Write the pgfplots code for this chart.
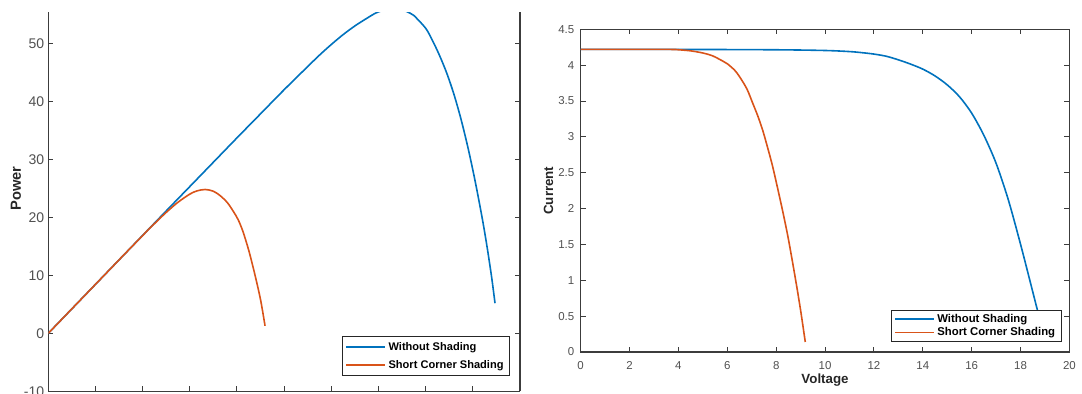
\documentclass[border=0pt]{standalone}
\usepackage{pgfplots}
\pgfplotsset{compat=1.18}
\usepackage{fontspec}
\setmainfont{Liberation Sans}
\definecolor{mblue}{rgb}{0,0.447,0.741}
\definecolor{morange}{rgb}{0.85,0.325,0.098}
\definecolor{axcol}{HTML}{3C3C3C}
\definecolor{tickcol}{HTML}{505050}
\definecolor{labcol}{HTML}{262626}

\pgfplotsset{
  mystyle/.style={
    scale only axis,
    tick align=inside,
    major tick length=3.75pt,
    every tick/.style={axcol, line width=0.8pt},
    /pgf/number format/assume math mode=true,
    ticklabel style={text=tickcol},
    legend cell align=left,
    legend image code/.code={\draw[##1, line width=1.2pt] (0pt,0pt) -- (29pt,0pt);},
    clip=true,
  }
}

\begin{document}
\begin{tikzpicture}
% ---------------- left: P-V ----------------
\begin{axis}[mystyle,
  at={(36.2pt,-293.5pt)}, anchor=south west,
  width=353.8pt, height=284.5pt,
  xmin=0, xmax=20, ymin=-10, ymax=55.4,
  axis x line*=bottom, axis y line*=box,
  axis line style={-, axcol, line width=0.9pt},
  x axis line style={-}, y axis line style={-},
  xtick={0,2,...,20}, xticklabels={},
  ytick={-10,0,10,20,30,40,50},
  yticklabel style={font=\fontsize{10.5}{12}\selectfont, xshift=0.5pt},
  ylabel={Power},
  every axis y label/.style={at={(axis description cs:-0.0684,0.535)}, rotate=90, anchor=center,
     font=\fontsize{11}{13}\selectfont\bfseries, text=labcol},
  legend style={at={(0.979,0.0403)}, anchor=south east, draw=black!85, line width=0.8pt,
     font=\fontsize{8.3}{10}\selectfont\bfseries, fill=white, inner xsep=2.5pt, inner ysep=2pt,
     row sep=2pt},
]
\addplot[mblue, line width=1.2pt, smooth] coordinates {
(0,0) (1,4.22) (2,8.44) (3,12.66) (4,16.88) (5,21.1) (6,25.3) (7,29.5) (8,33.7)
(9,37.85) (10,42.0) (11,46.0) (11.5,47.97) (12,49.8) (12.5,51.5) (13,53.0)
(13.5,54.3) (13.9,55.25) (14.3,55.8) (14.7,56.0) (15.0,55.8) (15.34,55.2)
(15.5,54.8) (16.0,52.6) (16.3,50.4) (16.6,47.8) (16.9,44.8) (17.2,41.2)
(17.5,36.9) (17.8,31.9) (18.1,26.2) (18.4,19.8) (18.6,15.0) (18.8,9.6) (18.94,5.2)
};
\addlegendentry{Without Shading}
\addplot[morange, line width=1.2pt, smooth] coordinates {
(0,0) (1,4.22) (2,8.44) (3,12.66) (4,16.86) (4.5,18.9) (5,20.85) (5.5,22.6)
(6,24.0) (6.3,24.55) (6.65,24.8) (7.0,24.5) (7.3,23.7) (7.6,22.5) (7.85,21.0)
(8.05,19.6) (8.25,17.6) (8.5,14.3) (8.75,10.3) (9.0,5.8) (9.19,1.3)
};
\addlegendentry{Short Corner Shading}
\end{axis}

% ---------------- right: I-V ----------------
\begin{axis}[mystyle,
  at={(435.5pt,-264pt)}, anchor=south west,
  width=366.6pt, height=242pt,
  xmin=0, xmax=20, ymin=0, ymax=4.5,
  axis line style={axcol, line width=0.9pt},
  xtick={0,2,...,20},
  ytick={0,0.5,1,1.5,2,2.5,3,3.5,4,4.5},
  ticklabel style={font=\fontsize{8.6}{10}\selectfont},
  xticklabel style={yshift=-3.5pt},
  yticklabel style={xshift=-1.3pt},
  xlabel={Voltage}, ylabel={Current},
  every axis x label/.style={at={(axis description cs:0.5,-0.088)}, anchor=center,
     font=\fontsize{10}{12}\selectfont\bfseries, text=labcol},
  every axis y label/.style={at={(axis description cs:-0.0659,0.5)}, rotate=90, anchor=center,
     font=\fontsize{10}{12}\selectfont\bfseries, text=labcol},
  legend style={at={(0.984,0.030)}, anchor=south east, draw=black!85, line width=0.8pt,
     font=\fontsize{8.5}{9}\selectfont\bfseries, fill=white, inner xsep=2.5pt, inner ysep=1pt,
     row sep=-1.5pt},
]
\addplot[mblue, line width=1.2pt, smooth] coordinates {
(0,4.22) (4,4.22) (8,4.215) (10,4.205) (11,4.19) (11.5,4.175) (12,4.155)
(12.5,4.125) (13,4.075) (13.5,4.015) (14,3.945) (14.5,3.85) (15,3.725)
(15.5,3.56) (16,3.33) (16.5,3.02) (17,2.63) (17.5,2.12) (18,1.5) (18.4,0.97)
(18.7,0.57) (18.94,0.27)
};
\addlegendentry{Without Shading}
\addplot[morange, line width=1.2pt, smooth] coordinates {
(0,4.22) (3.5,4.22) (4.0,4.215) (4.5,4.2) (5.0,4.17) (5.4,4.13) (5.8,4.06)
(6.0,4.02) (6.3,3.93) (6.5,3.84) (6.8,3.67) (7.04,3.47) (7.25,3.29) (7.45,3.09)
(7.65,2.85) (7.86,2.58) (8.14,2.16) (8.3,1.91) (8.48,1.61) (8.65,1.29)
(8.82,0.955) (9.0,0.58) (9.19,0.14)
};
\addlegendentry{Short Corner Shading}
\end{axis}

\pgfresetboundingbox
\path (0pt,0pt) rectangle (811.5pt,-294.75pt);
\end{tikzpicture}
\end{document}
